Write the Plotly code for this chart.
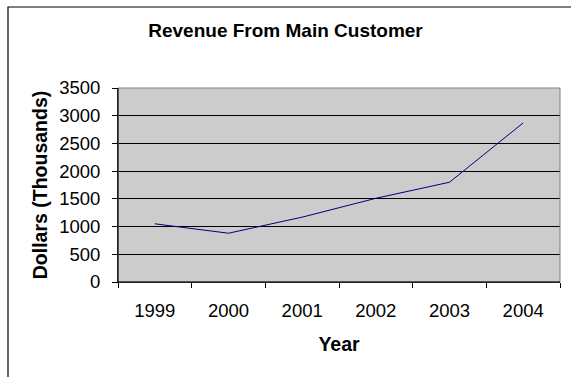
import plotly.graph_objects as go

# Annual revenue from the main customer, in thousands of dollars
years = ["1999", "2000", "2001", "2002", "2003", "2004"]
revenue = [1050, 880, 1170, 1510, 1800, 2870]

y_ticks = [0, 500, 1000, 1500, 2000, 2500, 3000, 3500]

FONT = "Liberation Sans, Arial, sans-serif"

fig = go.Figure(
    go.Scatter(
        x=years,
        y=revenue,
        mode="lines",
        line=dict(color="#000080", width=1),
        hoverinfo="x+y",
    )
)

# Plot area: l=118, r=560, t=88, b=282 in a 571x377 page
L, R, T, B = 118, 11, 88, 95
W, H = 571, 377
pw, ph = W - L - R, H - T - B


def px_x(x):
    return (x - L) / pw


def px_y(y):
    return (H - B - y) / ph


fig.update_layout(
    width=W,
    height=H,
    margin=dict(l=L, r=R, t=T, b=B, autoexpand=False),
    paper_bgcolor="white",
    plot_bgcolor="#cccccc",
    showlegend=False,
    font=dict(family=FONT, color="black"),
    title=dict(
        text="<b>Revenue From Main Customer</b>",
        x=0.5,
        xref="container",
        xanchor="center",
        y=1 - 30 / H,
        yref="container",
        yanchor="middle",
        font=dict(size=19, family=FONT, color="black"),
    ),
    xaxis=dict(
        type="category",
        categoryorder="array",
        categoryarray=years,
        range=[-0.5, len(years) - 0.5],
        showgrid=False,
        zeroline=False,
        showline=True,
        linecolor="black",
        linewidth=1,
        ticks="outside",
        tickson="boundaries",
        ticklen=5,
        tickcolor="black",
        tickfont=dict(size=18.5, family=FONT, color="black"),
        ticklabelstandoff=12,
        title=dict(
            text="<b>Year</b>",
            font=dict(size=19.5, family=FONT, color="black"),
            standoff=17,
        ),
        automargin=False,
        fixedrange=True,
    ),
    yaxis=dict(
        range=[0, 3500],
        tickvals=y_ticks,
        ticktext=[str(v) for v in y_ticks],
        showgrid=True,
        gridcolor="black",
        gridwidth=1,
        zeroline=False,
        showline=True,
        linecolor="black",
        linewidth=1,
        ticks="outside",
        ticklen=5,
        tickcolor="black",
        tickfont=dict(size=18.5, family=FONT, color="black"),
        ticklabelstandoff=8,
        title=dict(
            text="<b>Dollars (Thousands)</b>",
            font=dict(size=19.5, family=FONT, color="black"),
            standoff=6,
        ),
        automargin=False,
        fixedrange=True,
    ),
    shapes=[
        # gray plot-area frame on the top and right sides
        dict(
            type="rect", xref="paper", yref="paper",
            x0=0, x1=1, y0=0, y1=1,
            line=dict(color="#808080", width=1),
            layer="above",
        ),
        # outer chart border (left and top edges visible)
        dict(
            type="rect", xref="paper", yref="paper",
            x0=px_x(8), x1=px_x(W + 10), y0=px_y(H + 10), y1=px_y(7),
            line=dict(color="black", width=1.2),
            fillcolor="rgba(0,0,0,0)",
            layer="above",
        ),
    ],
)

# redraw the black axis lines over the gray frame
fig.add_shape(type="line", xref="paper", yref="paper", x0=0, x1=0, y0=0, y1=1,
              line=dict(color="black", width=1), layer="above")
fig.add_shape(type="line", xref="paper", yref="paper", x0=0, x1=1, y0=0, y1=0,
              line=dict(color="black", width=1), layer="above")

fig.write_html("out.html", config={"displayModeBar": False})
